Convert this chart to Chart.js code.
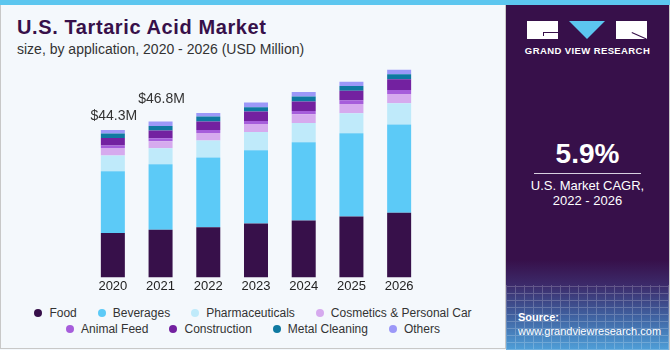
<!DOCTYPE html>
<html lang="en">
<head>
  <meta charset="UTF-8">
  <title>U.S. Tartaric Acid Market</title>
  <script src="https://cdn.jsdelivr.net/npm/chart.js"></script>
  <style>
    body {
      margin: 0;
      width: 670px;
      height: 350px;
      position: relative;
      overflow: hidden;
      font-family: "Liberation Sans", Arial, sans-serif;
      background: #f4f8fc;
    }
    .abs { position: absolute; }
    #stripe { left: 0; top: 0; width: 670px; height: 5px; background: #5cc6ef; }
    #frame { left: 0; top: 5px; width: 504px; height: 343px; border-left: 1px solid #c8c8c8; border-bottom: 1px solid #c8c8c8; border-right: 1px solid #c8c8c8; }
    h1 {
      position: absolute; left: 17px; top: 16px; margin: 0;
      font-size: 20px; font-weight: 900; color: #37104a; letter-spacing: 0.6px;
    }
    #sub { left: 17px; top: 41px; font-size: 14px; color: #333; }
    #wrap { left: 89px; top: 60px; width: 334px; height: 235px; }
    #legend {
      left: 0; top: 305px; width: 505px;
      font-size: 12px; color: #333; line-height: 16px;
    }
    .row { display: flex; justify-content: center; white-space: nowrap; }
    .item { display: flex; align-items: center; margin: 0 10px 0 11px; }
    .dot { width: 8px; height: 8px; border-radius: 50%; margin-right: 7px; }
    #side {
      left: 506px; top: 5px; width: 163px; height: 345px;
      background: linear-gradient(to bottom, #37104a 0px, #37104a 255px, #3c2a6a 280px, #3f5f9e 310px, #4f9fd8 345px);
      border-right: 1px solid #c8c8c8;
    }
    #grid {
      left: 506px; top: 285px; width: 163px; height: 65px; opacity: 0.2;
      background-image:
        repeating-linear-gradient(90deg, #fff 0 1px, transparent 1px 9px),
        repeating-linear-gradient(0deg, #fff 0 1px, transparent 1px 7px);
    }
    .wb { background: #fff; }
    #tri { left: 569px; top: 21px; width: 0; height: 0; border-left: 18px solid transparent; border-right: 18px solid transparent; border-top: 18px solid #5cc6ef; }
    #gvr { left: 506px; top: 45px; width: 163px; text-align: center; color: #fff; font-size: 9.5px; font-weight: bold; letter-spacing: 0.4px; white-space: nowrap; }
    #cagr { left: 506px; top: 138px; width: 163px; text-align: center; color: #fff; font-size: 28px; font-weight: bold; }
    #rule { left: 534px; top: 173px; width: 107px; height: 1px; background: #d8d0e0; }
    #cagrtxt { left: 506px; top: 179px; width: 163px; text-align: center; color: #fff; font-size: 13px; line-height: 14.5px; }
    #src { left: 518px; top: 310px; color: #fff; font-size: 11px; line-height: 14px; white-space: nowrap; }
  </style>
</head>
<body>
  <div id="stripe" class="abs"></div>
  <div id="frame" class="abs"></div>
  <h1>U.S. Tartaric Acid Market</h1>
  <div id="sub" class="abs">size, by application, 2020 - 2026 (USD Million)</div>

  <div id="wrap" class="abs"><canvas id="chart"></canvas></div>
  <div id="legend" class="abs"></div>

  <div id="side" class="abs"></div>
  <div id="grid" class="abs"></div>
  <!-- logo -->
  <div class="abs wb" style="left:527px;top:21px;width:31px;height:18px;"></div>
  <div class="abs" style="left:543px;top:32px;width:15px;height:1px;background:#37104a;"></div>
  <div class="abs" style="left:543px;top:32px;width:1px;height:4px;background:#37104a;"></div>
  <div id="tri" class="abs"></div>
  <div class="abs wb" style="left:616px;top:21px;width:31px;height:18px;"></div>
  <div class="abs" style="left:632px;top:32px;width:16px;height:1px;background:#37104a;transform:rotate(24deg);transform-origin:0 0;"></div>
  <div id="gvr" class="abs">GRAND VIEW RESEARCH</div>
  <div id="cagr" class="abs">5.9%</div>
  <div id="rule" class="abs"></div>
  <div id="cagrtxt" class="abs">U.S. Market CAGR,<br>2022 - 2026</div>
  <div id="src" class="abs"><b>Source:</b><br>www.grandviewresearch.com</div>

  <script>
    const years = ['2020', '2021', '2022', '2023', '2024', '2025', '2026'];
    const totalLabels = ['$44.3M', '$46.8M', '', '', '', '', ''];

    const food            = [13.3, 14.3, 15.1, 16.2, 17.1, 18.3, 19.4];
    const beverages       = [18.6, 19.7, 20.9, 22.0, 23.5, 25.0, 26.5];
    const pharmaceuticals = [4.7, 4.8, 5.1, 5.5, 5.8, 6.0, 6.4];
    const cosmetics       = [2.3, 2.1, 2.3, 2.4, 2.6, 2.8, 2.8];
    const animalFeed      = [0.7, 0.9, 0.9, 0.9, 1.0, 1.1, 1.2];
    const construction    = [2.3, 2.3, 2.5, 2.8, 2.8, 2.9, 3.2];
    const metalCleaning   = [1.3, 1.4, 1.5, 1.3, 1.5, 1.4, 1.5];
    const others          = [1.1, 1.3, 1.1, 1.4, 1.4, 1.3, 1.4];

    const seriesNames = ['Food', 'Beverages', 'Pharmaceuticals', 'Cosmetics & Personal Car',
      'Animal Feed', 'Construction', 'Metal Cleaning', 'Others'];
    const seriesData = [food, beverages, pharmaceuticals, cosmetics, animalFeed, construction, metalCleaning, others];
    const seriesColors = ['#37104a', '#5ccaf7', '#bfeafa', '#d6aaee', '#a65ddb', '#7321a0', '#0f79a1', '#9c98f8'];

    // labels above the first two bars
    const topLabels = {
      id: 'topLabels',
      afterDatasetsDraw(chart) {
        const ctx = chart.ctx;
        const x = chart.scales.x, y = chart.scales.y;
        const lift = [14, 22];
        ctx.save();
        ctx.font = '14px "Liberation Sans", Arial, sans-serif';
        ctx.fillStyle = '#333';
        ctx.textAlign = 'center';
        ctx.textBaseline = 'middle';
        totalLabels.forEach((t, i) => {
          if (!t) return;
          const sum = seriesData.reduce((s, d) => s + d[i], 0);
          ctx.fillText(t, x.getPixelForValue(i) + 1, y.getPixelForValue(sum) - lift[i]);
        });
        ctx.restore();
      }
    };

    new Chart(document.getElementById('chart'), {
      type: 'bar',
      data: {
        labels: years,
        datasets: seriesNames.map((name, i) => ({
          label: name,
          data: seriesData[i],
          backgroundColor: seriesColors[i],
          borderWidth: 0
        }))
      },
      options: {
        responsive: true,
        maintainAspectRatio: false,
        animation: false,
        layout: { padding: 0 },
        datasets: { bar: { categoryPercentage: 1, barPercentage: 0.503 } },
        plugins: {
          legend: { display: false },
          tooltip: { enabled: false }
        },
        scales: {
          x: {
            stacked: true,
            grid: { display: false, drawTicks: false },
            border: { display: false },
            ticks: { padding: 1, color: '#222', font: { size: 13, family: '"Liberation Sans", Arial, sans-serif' } }
          },
          y: {
            stacked: true,
            display: false,
            min: 0,
            max: 65.3
          }
        }
      },
      plugins: [topLabels]
    });

    // html legend, two rows of four like the original
    const legend = document.getElementById('legend');
    [0, 4].forEach(start => {
      const row = document.createElement('div');
      row.className = 'row';
      seriesNames.slice(start, start + 4).forEach((name, k) => {
        const item = document.createElement('div');
        item.className = 'item';
        item.innerHTML = '<span class="dot" style="background:' + seriesColors[start + k] + '"></span>' + name;
        row.appendChild(item);
      });
      legend.appendChild(row);
    });
  </script>
</body>
</html>
